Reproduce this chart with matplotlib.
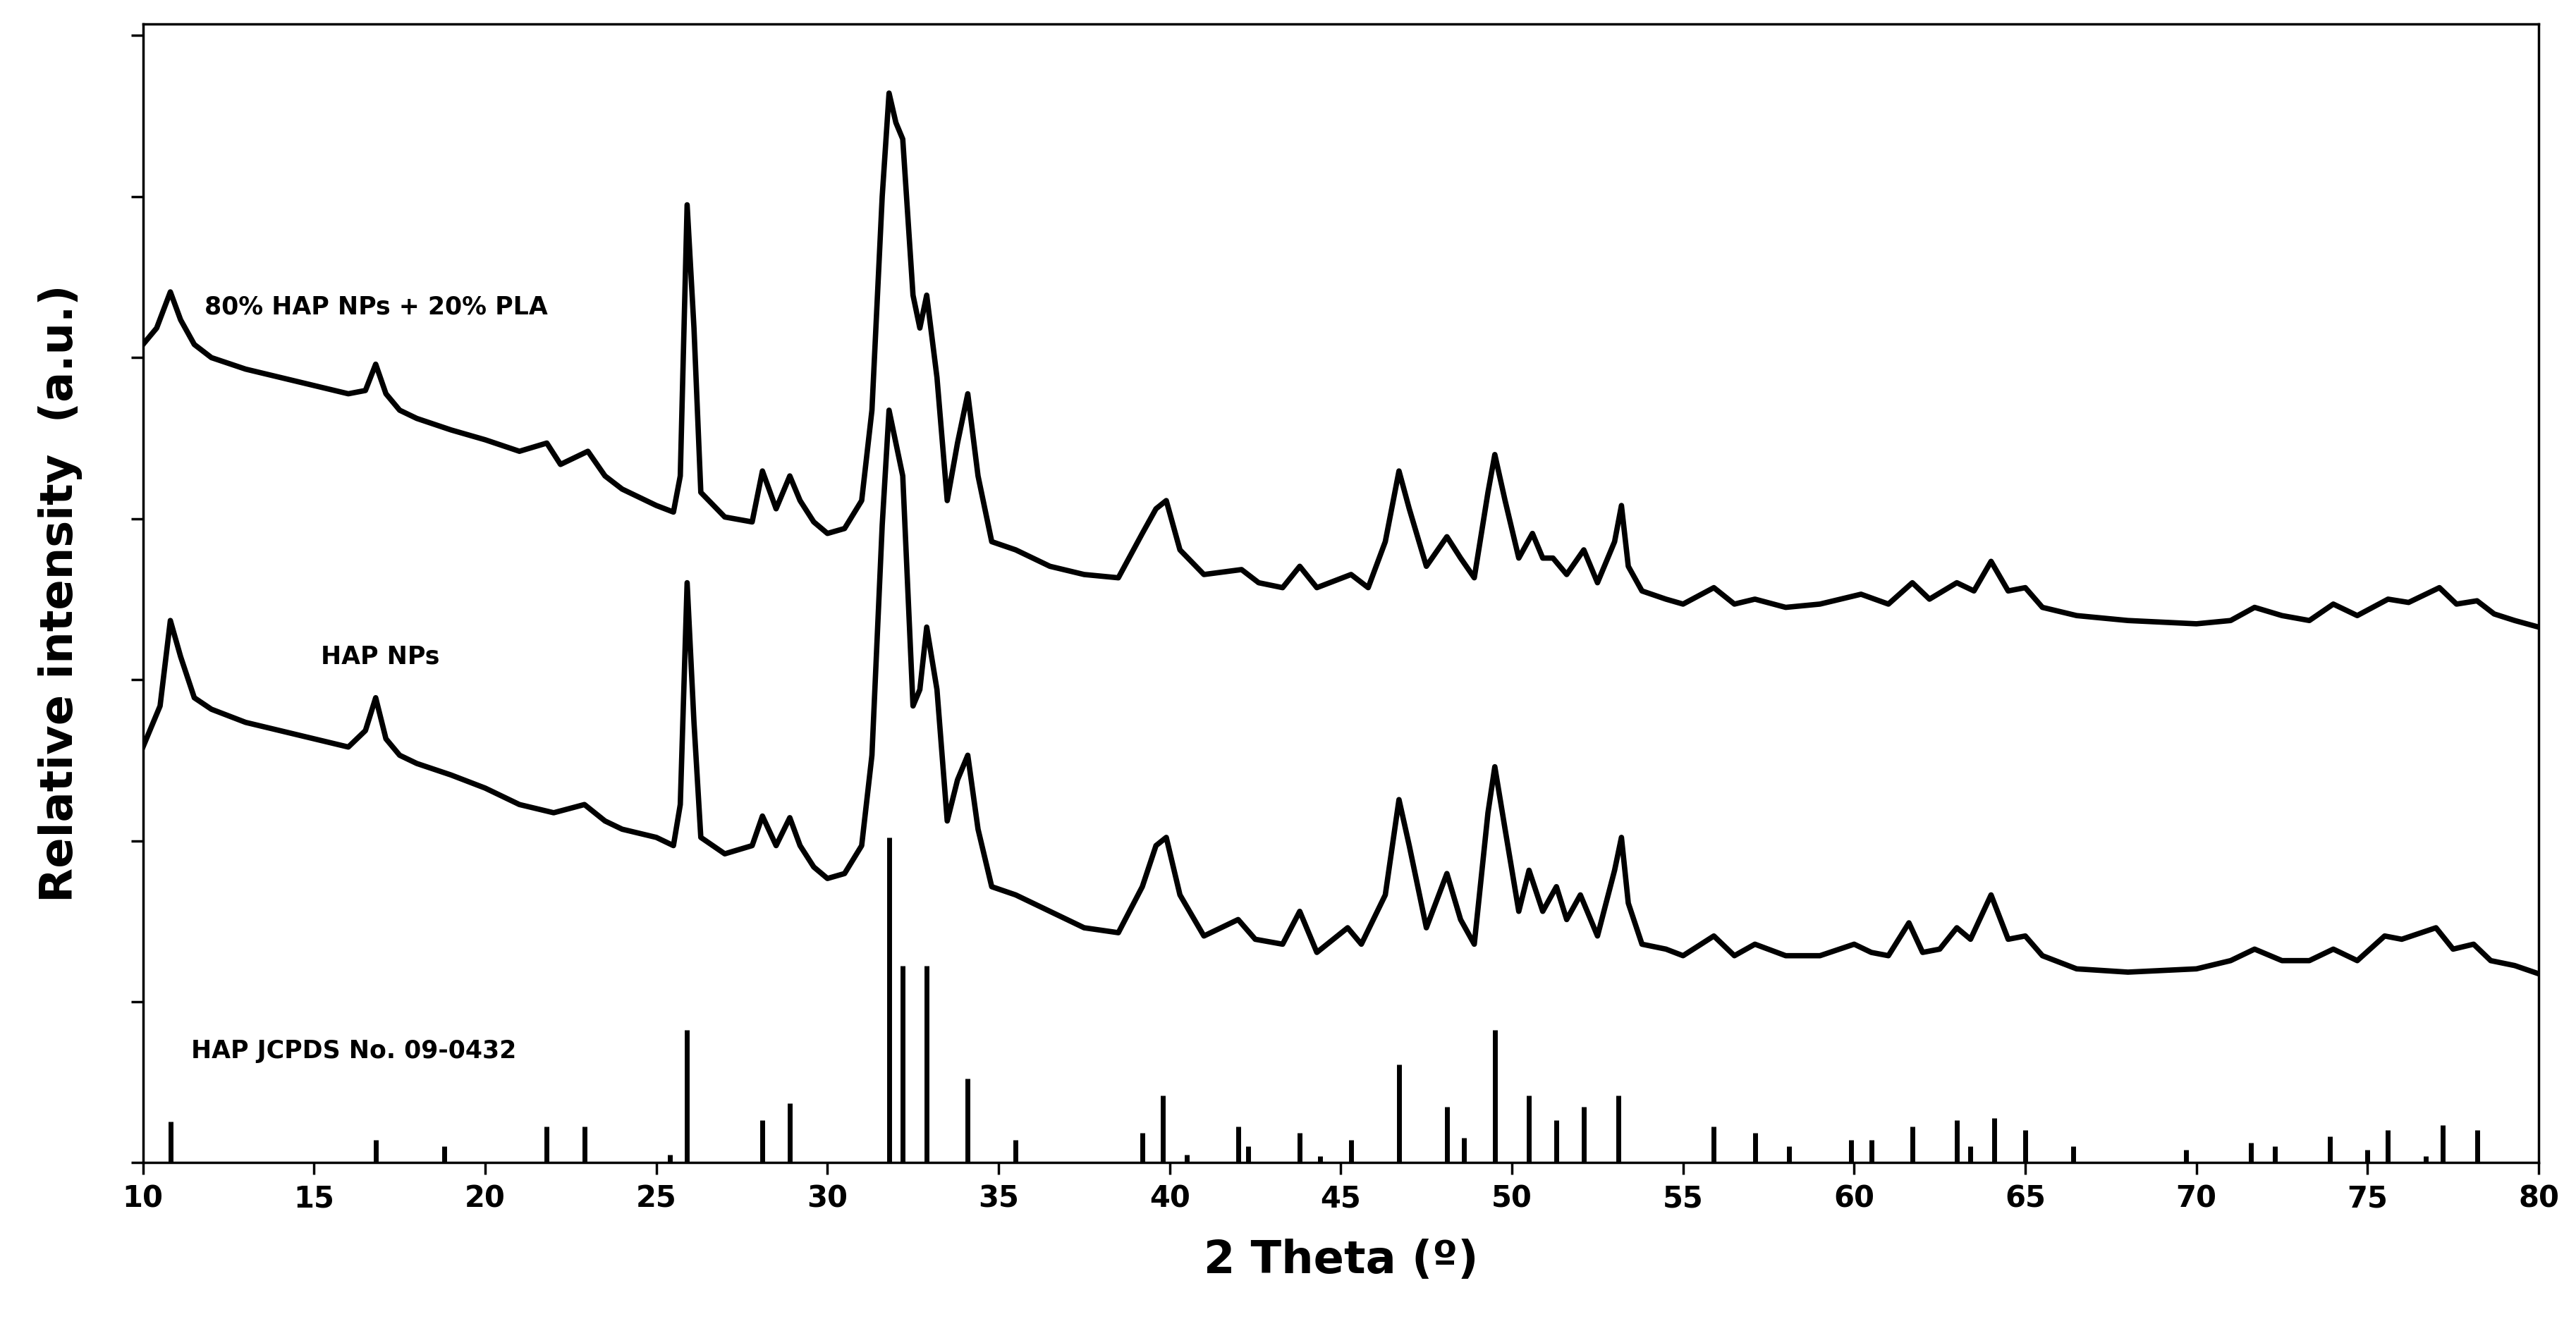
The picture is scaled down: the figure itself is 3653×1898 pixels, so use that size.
import matplotlib
matplotlib.use("Agg")
import matplotlib.pyplot as plt
import numpy as np

# intensities in arbitrary units
ref_theta = [10.8,16.8,18.8,21.8,22.9,25.4,25.9,28.1,28.9,31.8,32.2,32.9,34.1,35.5,39.2,39.8,40.5,42.0,42.3,43.8,44.4,45.3,46.7,48.1,48.6,49.5,50.5,51.3,52.1,53.1,55.9,57.1,58.1,59.9,60.5,61.7,63.0,63.4,64.1,65.0,66.4,69.7,71.6,72.3,73.9,75.0,75.6,76.7,77.2,78.2]
ref_int = [25,14,10,22,22,5,81,26,36,198,120,120,51,14,18,41,5,22,10,18,4,14,60,34,15,81,41,26,34,41,22,18,10,14,14,22,26,10,27,20,10,8,12,10,16,8,20,4,23,20]

hap_points = [(10.0,455),(10.5,430),(10.8,378),(11.1,400),(11.5,425),(12,432),(13,440),(14,445),(15,450),(16,455),(16.5,445),(16.8,425),(17.1,450),(17.5,460),(18,465),(19,472),(20,480),(21,490),(22,495),(22.9,490),(23.5,500),(24,505),(25,510),(25.5,515),(25.7,490),(25.9,355),(26.1,440),(26.3,510),(27,520),(27.8,515),(28.1,497),(28.5,515),(28.9,498),(29.2,515),(29.6,528),(30,535),(30.5,532),(31,515),(31.3,460),(31.6,320),(31.8,250),(32.0,270),(32.2,290),(32.5,430),(32.7,420),(32.9,382),(33.2,420),(33.5,500),(33.8,475),(34.1,460),(34.4,505),(34.8,540),(35.5,545),(36.5,555),(37.5,565),(38.5,568),(39.2,540),(39.6,515),(39.9,510),(40.3,545),(41,570),(42,560),(42.5,572),(43.3,575),(43.8,555),(44.3,580),(45.2,565),(45.6,575),(46.3,545),(46.7,487),(47,515),(47.5,565),(48.1,532),(48.5,560),(48.9,575),(49.3,495),(49.5,467),(49.8,505),(50.2,555),(50.5,530),(50.9,555),(51.3,540),(51.6,560),(52,545),(52.5,570),(53.0,530),(53.2,510),(53.4,550),(53.8,575),(54.5,578),(55,582),(55.9,570),(56.5,582),(57.1,575),(58,582),(59,582),(60,575),(60.5,580),(61,582),(61.6,562),(62,580),(62.5,578),(63,565),(63.4,572),(64,545),(64.5,572),(65,570),(65.5,582),(66.5,590),(68,592),(70,590),(71,585),(71.7,578),(72.5,585),(73.3,585),(74,578),(74.7,585),(75.5,570),(76,572),(77,565),(77.5,578),(78.1,575),(78.6,585),(79.3,588),(80,593)]

comp_points = [(10.0,210),(10.4,200),(10.8,178),(11.1,195),(11.5,210),(12,218),(13,225),(14,230),(15,235),(16,240),(16.5,238),(16.8,222),(17.1,240),(17.5,250),(18,255),(19,262),(20,268),(21,275),(21.8,270),(22.2,283),(23.0,275),(23.5,290),(24,298),(25,308),(25.5,312),(25.7,290),(25.9,125),(26.1,200),(26.3,300),(27,315),(27.8,318),(28.1,287),(28.5,310),(28.9,290),(29.2,305),(29.6,318),(30,325),(30.5,322),(31,305),(31.3,250),(31.6,120),(31.8,57),(32.0,75),(32.2,85),(32.5,180),(32.7,200),(32.9,180),(33.2,230),(33.5,305),(33.8,270),(34.1,240),(34.4,290),(34.8,330),(35.5,335),(36.5,345),(37.5,350),(38.5,352),(39.2,325),(39.6,310),(39.9,305),(40.3,335),(41,350),(42.1,347),(42.6,355),(43.3,358),(43.8,345),(44.3,358),(45.3,350),(45.8,358),(46.3,330),(46.7,287),(47,310),(47.5,345),(48.1,327),(48.5,340),(48.9,352),(49.3,300),(49.5,277),(49.8,305),(50.2,340),(50.6,325),(50.9,340),(51.2,340),(51.6,350),(52.1,335),(52.5,355),(53.0,330),(53.2,308),(53.4,345),(53.8,360),(54.5,365),(55,368),(55.9,358),(56.5,368),(57.1,365),(58,370),(59,368),(60.2,362),(61,368),(61.7,355),(62.2,365),(63,355),(63.5,360),(64.0,342),(64.5,360),(65,358),(65.5,370),(66.5,375),(68,378),(70,380),(71,378),(71.7,370),(72.5,375),(73.3,378),(74,368),(74.7,375),(75.6,365),(76.2,367),(77.1,358),(77.6,368),(78.2,366),(78.7,374),(79.3,378),(80,382)]

hap_theta = [t for t, p in hap_points]
hap_int = [708 - p for t, p in hap_points]
comp_theta = [t for t, p in comp_points]
comp_int = [708 - p for t, p in comp_points]

fig = plt.figure(figsize=(36.53, 18.98), dpi=100)
ax = fig.add_axes([0.0555, 0.131, 0.93, 0.851])
ax.plot(hap_theta, hap_int, color='black', lw=5.5, solid_joinstyle='round')
ax.plot(comp_theta, comp_int, color='black', lw=5.5, solid_joinstyle='round')
ax.vlines(ref_theta, 0, ref_int, color='black', lw=5)

ax.set_xlim(10, 80)
ax.set_ylim(0, 693)
ax.set_xticks(range(10, 81, 5))
ax.set_yticks(np.arange(0, 693, 98))
ax.set_yticklabels([])
ax.tick_params(axis='both', direction='out', length=12, width=2.5, labelsize=30, pad=10)
for lbl in ax.get_xticklabels():
    lbl.set_fontweight('bold')
for s in ax.spines.values():
    s.set_linewidth(2.5)
ax.set_xlabel('2 Theta (º)', fontsize=46, fontweight='bold', labelpad=25)
ax.set_ylabel('Relative intensity  (a.u.)', fontsize=46, fontweight='bold', labelpad=40)

ax.text(11.8, 521, '80% HAP NPs + 20% PLA', fontsize=25, fontweight='bold', va='center')
ax.text(15.2, 308, 'HAP NPs', fontsize=25, fontweight='bold', va='center')
ax.text(11.4, 68, 'HAP JCPDS No. 09-0432', fontsize=25, fontweight='bold', va='center')

fig.savefig('out.png', dpi=100)
